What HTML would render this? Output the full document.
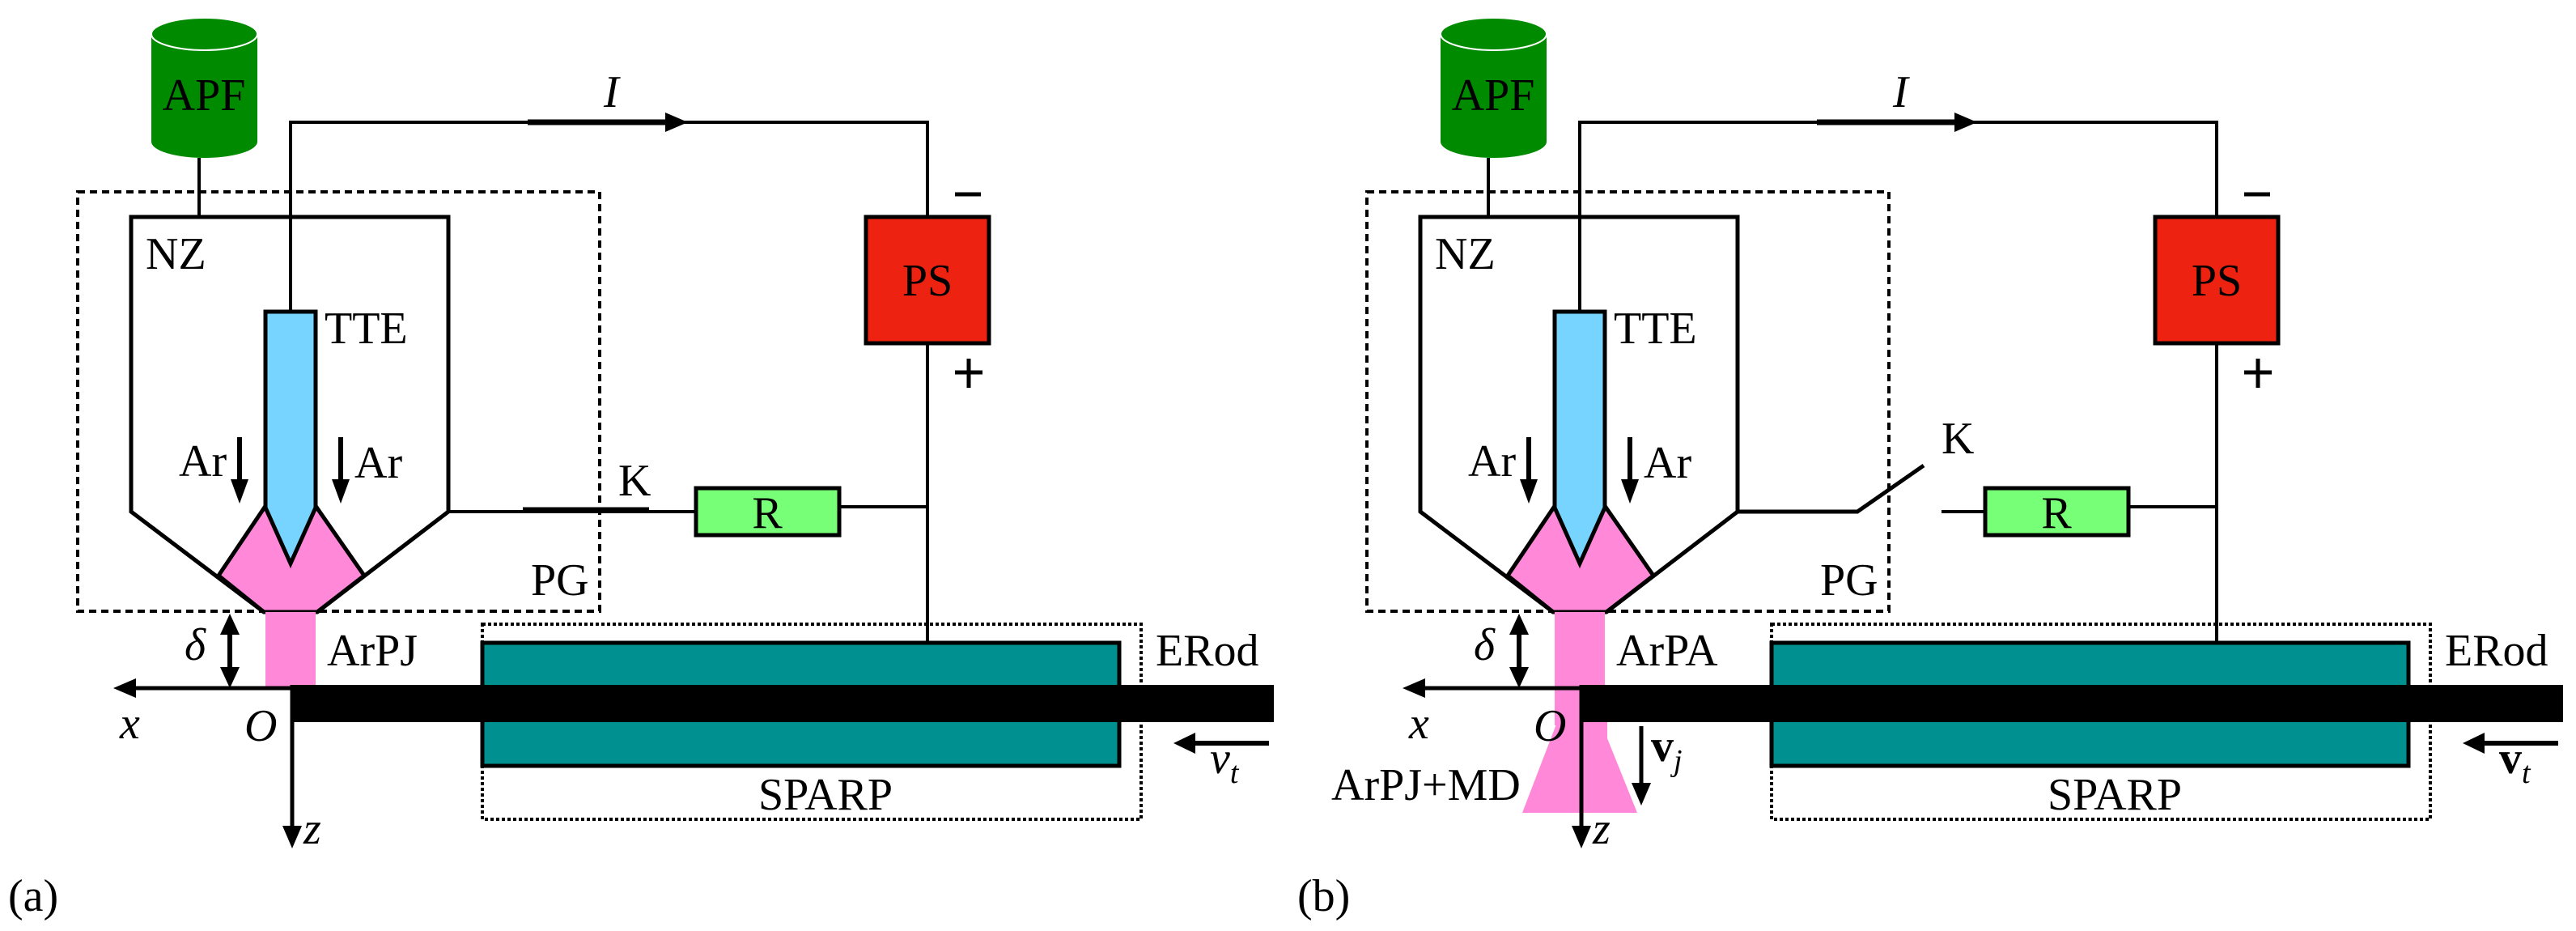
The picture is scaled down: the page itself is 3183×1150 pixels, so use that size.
<!DOCTYPE html>
<html><head><meta charset="utf-8"><style>
html,body{margin:0;padding:0;background:#fff}
svg{display:block}
svg text{font-family:"Liberation Serif","Noto Serif CJK SC","DejaVu Serif",serif;font-size:56px;fill:#000}
.i{font-style:italic}
</style></head><body>
<svg width="3183" height="1150" viewBox="0 0 3183 1150" xmlns="http://www.w3.org/2000/svg">
<defs>
<g id="common">
  <path d="M187,42 L187,175 A65.5,20 0 0 0 318,175 L318,42 Z" fill="#008a00"/>
  <ellipse cx="252.5" cy="42" rx="65.5" ry="20" fill="#008a00" stroke="#fff" stroke-width="2"/>
  <text x="252" y="136" text-anchor="middle">APF</text>
  <line x1="246" y1="195" x2="246" y2="268" stroke="#000" stroke-width="4"/>
  <rect x="96" y="237" width="645" height="518" fill="none" stroke="#000" stroke-width="4" stroke-dasharray="9,6"/>
  <polyline points="359,385 359,151 1146,151 1146,268" fill="none" stroke="#000" stroke-width="4"/>
  <line x1="652" y1="151" x2="830" y2="151" stroke="#000" stroke-width="7"/>
  <polygon points="850,151 822,139 822,163" fill="#000"/>
  <text class="i" x="746" y="132">I</text>
  <polygon points="270,711 328,625 359,695 390,625 450,711 392,756 326,756" fill="#ff88d8" stroke="#000" stroke-width="5"/>
  <polyline points="326,756 162,632 162,268 554,268 554,632 392,756" fill="none" stroke="#000" stroke-width="5"/>
  <polygon points="328,385 390,385 390,627 359,696 328,627" fill="#77d4ff" stroke="#000" stroke-width="5"/>
  <text x="180" y="332">NZ</text>
  <text x="401" y="424">TTE</text>
  <text x="221" y="588">Ar</text>
  <text x="438" y="590">Ar</text>
  <line x1="296" y1="540" x2="296" y2="600" stroke="#000" stroke-width="6"/>
  <polygon points="296,622 285,592 307,592" fill="#000"/>
  <line x1="421" y1="540" x2="421" y2="600" stroke="#000" stroke-width="6"/>
  <polygon points="421,622 410,592 432,592" fill="#000"/>
  <text x="656" y="735">PG</text>
  <rect x="328" y="756" width="62" height="96" fill="#ff88d8"/>
  <rect x="1070" y="268" width="152" height="156" fill="#ee2211" stroke="#000" stroke-width="5"/>
  <text x="1146" y="365" text-anchor="middle">PS</text>
  <line x1="1180" y1="240" x2="1212" y2="240" stroke="#000" stroke-width="5"/>
  <line x1="1180" y1="460" x2="1214" y2="460" stroke="#000" stroke-width="5"/>
  <line x1="1197" y1="443" x2="1197" y2="479" stroke="#000" stroke-width="5"/>
  <line x1="1146" y1="424" x2="1146" y2="794" stroke="#000" stroke-width="4"/>
  <rect x="860" y="603" width="177" height="58" fill="#77ff77" stroke="#000" stroke-width="5"/>
  <text x="948" y="652" text-anchor="middle">R</text>
  <line x1="1037" y1="626" x2="1146" y2="626" stroke="#000" stroke-width="4"/>
  <rect x="596" y="771" width="814" height="241" fill="none" stroke="#000" stroke-width="4" stroke-dasharray="4,3"/>
  <rect x="596" y="794" width="787" height="152" fill="#009090" stroke="#000" stroke-width="5"/>
  <text x="1020" y="1000" text-anchor="middle">SPARP</text>
  <text x="1428" y="822">ERod</text>
  <rect x="359" y="846" width="1215" height="46" fill="#000"/>
  <line x1="359" y1="850" x2="160" y2="850" stroke="#000" stroke-width="5"/>
  <polygon points="140,850 168,838 168,862" fill="#000"/>
  <text class="i" x="148" y="912">x</text>
  <line x1="361" y1="846" x2="361" y2="1025" stroke="#000" stroke-width="5"/>
  <polygon points="361,1048 349,1020 373,1020" fill="#000"/>
  <text class="i" x="375" y="1042">z</text>
  <text class="i" x="302" y="915">O</text>
  <line x1="284" y1="780" x2="284" y2="828" stroke="#000" stroke-width="6"/>
  <polygon points="284,758 272,784 296,784" fill="#000"/>
  <polygon points="284,850 272,824 296,824" fill="#000"/>
  <text class="i" x="228" y="815">δ</text>
  <line x1="1568" y1="918" x2="1470" y2="918" stroke="#000" stroke-width="6"/>
  <polygon points="1450,918 1477,905 1477,931" fill="#000"/>
</g>
</defs>

<use href="#common"/>
<line x1="554" y1="632" x2="860" y2="632" stroke="#000" stroke-width="4"/>
<line x1="646" y1="630" x2="802" y2="630" stroke="#000" stroke-width="7"/>
<text x="764" y="612">K</text>
<text x="404" y="822">ArPJ</text>
<text class="i" x="1495" y="955">v<tspan font-size="38" dy="12">t</tspan></text>
<text x="10" y="1125">(a)</text>

<g transform="translate(1593,0)">
  <polygon points="331,892 288,1004 430,1004 393,912 393,892" fill="#ff88d8"/>
  <rect x="328" y="846" width="62" height="50" fill="#ff88d8"/>
  <use href="#common"/>
  <rect x="363" y="892" width="30" height="20" fill="#ff88d8"/>
  <line x1="361" y1="892" x2="361" y2="1025" stroke="#000" stroke-width="5"/>
  <polyline points="554,632 702,632 784,575" fill="none" stroke="#000" stroke-width="5"/>
  <line x1="806" y1="632" x2="860" y2="632" stroke="#000" stroke-width="4"/>
  <text x="806" y="560">K</text>
  <text x="404" y="822">ArPA</text>
  <line x1="435" y1="897" x2="435" y2="975" stroke="#000" stroke-width="5"/>
  <polygon points="435,995 423,967 447,967" fill="#000"/>
  <text x="447" y="940" font-weight="bold">v<tspan class="i" font-weight="normal" font-size="38" dy="12">j</tspan></text>
  <text x="52" y="988">ArPJ+MD</text>
  <text x="1495" y="955" font-weight="bold">v<tspan class="i" font-weight="normal" font-size="38" dy="12">t</tspan></text>
  <text x="10" y="1125">(b)</text>
</g>
</svg>
</body></html>
